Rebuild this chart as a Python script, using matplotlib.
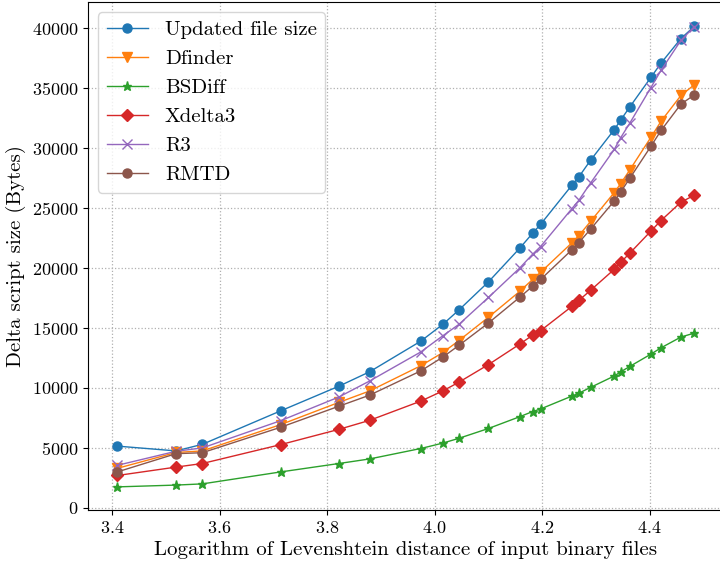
import numpy as np
import matplotlib
matplotlib.use('Agg')
import matplotlib.pyplot as plt

plt.rcParams['font.family'] = 'cmr10'
plt.rcParams['mathtext.fontset'] = 'cm'
plt.rcParams['axes.formatter.use_mathtext'] = True
plt.rcParams['axes.unicode_minus'] = False

# log10 of the Levenshtein distance for each input pair
log_dist = np.array([3.410, 3.519, 3.568, 3.714, 3.822, 3.879, 3.974, 4.015,
                     4.045, 4.100, 4.158, 4.182, 4.197, 4.255, 4.268, 4.290,
                     4.334, 4.346, 4.363, 4.402, 4.421, 4.458, 4.483])

updated_size = np.array([5150, 4750, 5300, 8100, 10150, 11350, 13900, 15300,
                         16500, 18850, 21650, 22900, 23650, 26900, 27600, 29000,
                         31550, 32350, 33450, 35900, 37100, 39150, 40170])
dfinder = np.array([3300, 4620, 4750, 6950, 8800, 9750, 11850, 12950,
                    13950, 15900, 18050, 19050, 19650, 22100, 22700, 23900,
                    26300, 27050, 28200, 30900, 32250, 34400, 35300])
bsdiff = np.array([1750, 1900, 2000, 3000, 3700, 4080, 4950, 5400,
                   5800, 6620, 7600, 8030, 8250, 9320, 9560, 10050,
                   11000, 11350, 11800, 12820, 13350, 14250, 14580])
xdelta3 = np.array([2700, 3400, 3700, 5280, 6550, 7300, 8900, 9750,
                    10480, 11950, 13650, 14400, 14780, 16800, 17300, 18150,
                    19900, 20480, 21250, 23080, 23970, 25500, 26080])
r3 = np.array([3550, 4720, 5000, 7280, 9250, 10580, 13000, 14350,
               15300, 17550, 20000, 21150, 21800, 24950, 25650, 27100,
               29900, 30880, 32100, 35050, 36500, 39000, 40150])
rmtd = np.array([3000, 4520, 4600, 6730, 8480, 9400, 11420, 12570,
                 13550, 15420, 17560, 18480, 19050, 21520, 22120, 23250,
                 25600, 26350, 27500, 30150, 31480, 33680, 34450])

series = [
    ('Updated file size', updated_size, 'o'),
    ('Dfinder', dfinder, 'v'),
    ('BSDiff', bsdiff, '*'),
    ('Xdelta3', xdelta3, 'D'),
    ('R3', r3, 'x'),
    ('RMTD', rmtd, 'o'),
]

fig = plt.figure(figsize=(7.2, 5.62), dpi=100)
ax = fig.add_axes([0.122, 0.0925, 0.882, 0.904])

for label, values, marker in series:
    ax.plot(log_dist, values, marker=marker, linewidth=1.0, markersize=6.5,
            label=label)

ax.set_xlim(3.355, 4.536)
ax.set_ylim(-180, 42200)
ax.set_xticks([3.4, 3.6, 3.8, 4.0, 4.2, 4.4])
ax.set_yticks(np.arange(0, 40001, 5000))
ax.tick_params(labelsize=13)
ax.grid(True, linestyle=':', color='#b0b0b0', linewidth=0.9)

ax.set_xlabel('Logarithm of Levenshtein distance of input binary files',
              fontsize=15)
ax.set_ylabel('Delta script size (Bytes)', fontsize=15)
ax.legend(loc='upper left', fontsize=15)

fig.savefig('out.png', dpi=100)
